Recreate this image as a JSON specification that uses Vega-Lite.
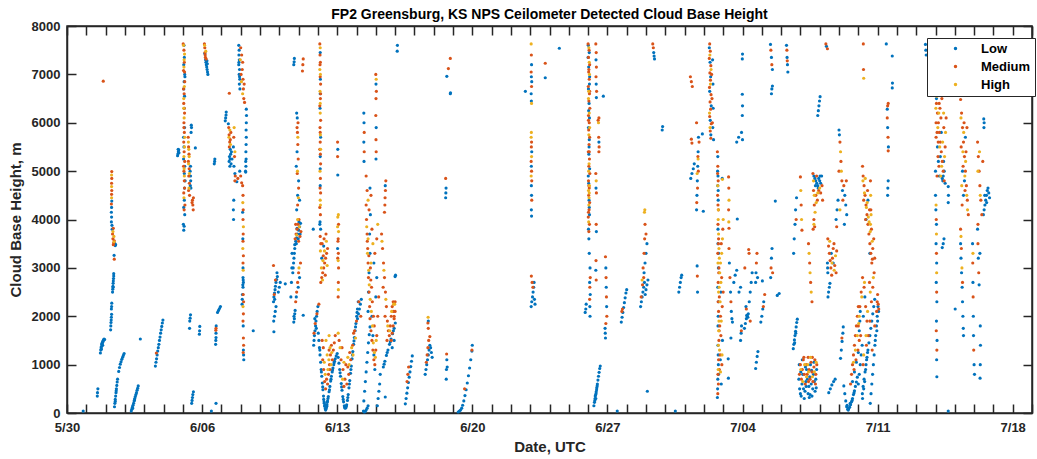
{
"$schema": "https://vega.github.io/schema/vega-lite/v6.json",
"width": 965, "height": 387,
"autosize": "none",
"padding": {"left": 67, "top": 26, "right": 5, "bottom": 46},
"title": {"text": "FP2 Greensburg, KS NPS Ceilometer Detected Cloud Base Height", "fontSize": 14, "font": "Liberation Sans", "fontWeight": "bold", "color": "#000000", "offset": -2, "anchor": "middle"},
"data": {"format": {"type": "csv", "parse": {"day": "number", "height": "number"}}, "values": "day,height,level\n0.84,40,L\n1.57,350,L\n1.58,420,L\n1.60,500,L\n1.88,6860,M\n1.73,1240,L\n1.75,1300,L\n1.77,1350,L\n1.79,1380,L\n1.80,1420,L\n1.82,1440,L\n1.84,1460,L\n1.86,1480,L\n1.88,1500,L\n1.90,1510,L\n1.92,1530,L\n1.85,1400,L\n1.95,1520,L\n1.78,1320,L\n2.26,1720,L\n2.27,1800,L\n2.28,1870,L\n2.29,1920,L\n2.30,1980,L\n2.31,2040,L\n2.30,2150,L\n2.31,2200,L\n2.32,2270,L\n2.36,2500,L\n2.37,2560,L\n2.38,2620,L\n2.39,2680,L\n2.40,2730,L\n2.41,2780,L\n2.42,2830,L\n2.42,2880,L\n2.39,2600,L\n2.45,3180,M\n2.44,3260,L\n2.40,3480,M\n2.42,3520,M\n2.45,3560,M\n2.38,3600,M\n2.48,3500,L\n2.50,3460,L\n2.43,3650,H\n2.38,3750,H\n2.36,3700,M\n2.34,3800,L\n2.33,3880,L\n2.40,3820,M\n2.44,3540,H\n2.52,3480,L\n2.30,3950,L\n2.31,4050,L\n2.30,4150,L\n2.31,4250,L\n2.30,4320,M\n2.32,4380,L\n2.31,4450,H\n2.31,4520,M\n2.32,4600,M\n2.31,4680,H\n2.31,4750,M\n2.32,4850,M\n2.31,4920,H\n2.32,4990,M\n2.46,130,L\n2.48,200,L\n2.50,280,L\n2.52,350,L\n2.54,420,L\n2.56,500,L\n2.58,570,L\n2.60,640,L\n2.62,700,L\n2.68,860,L\n2.72,940,L\n2.76,1010,L\n2.80,1060,L\n2.84,1110,L\n2.88,1150,L\n2.92,1190,L\n2.96,1230,L\n2.50,240,L\n2.55,460,L\n3.33,40,L\n3.36,80,L\n3.39,120,L\n3.42,160,L\n3.45,200,L\n3.48,250,L\n3.51,300,L\n3.54,340,L\n3.57,380,L\n3.60,420,L\n3.63,470,L\n3.66,510,L\n3.69,560,L\n3.40,100,L\n3.50,270,L\n3.80,1530,L\n4.58,970,L\n4.61,1050,L\n4.64,1120,L\n4.67,1200,L\n4.70,1280,L\n4.73,1350,L\n4.76,1420,L\n4.79,1500,L\n4.82,1570,L\n4.85,1650,L\n4.88,1720,L\n4.91,1790,L\n4.94,1860,L\n4.97,1920,L\n4.63,1240,M\n6.05,3780,L\n6.07,3860,L\n6.10,4100,L\n6.08,4400,L\n6.12,4800,L\n6.10,5100,L\n6.06,5500,L\n6.09,5900,L\n6.07,6300,L\n6.05,6700,L\n6.10,7000,L\n6.08,7350,L\n6.06,7600,L\n6.11,6950,L\n6.04,5700,L\n6.09,4650,L\n6.03,3900,L\n6.05,4250,L\n6.08,4950,L\n6.04,5250,L\n6.09,6550,L\n6.07,6850,L\n6.05,7200,L\n6.02,7630,M\n6.06,7500,M\n6.08,7250,M\n6.04,7080,M\n6.10,6850,M\n6.07,6600,M\n6.05,6400,M\n6.09,6200,M\n6.06,6000,M\n6.08,5800,M\n6.05,5600,M\n6.07,5400,M\n6.10,5200,M\n6.06,5000,M\n6.08,4800,M\n6.05,4550,M\n6.11,4300,M\n6.07,4200,M\n6.09,7050,M\n6.04,6700,M\n6.08,6300,M\n6.06,5900,M\n6.04,5100,M\n6.09,4650,M\n6.04,7600,H\n6.09,7420,H\n6.06,7150,H\n6.08,6750,H\n6.05,6500,H\n6.07,6100,H\n6.10,5700,H\n6.06,5300,H\n6.08,4900,H\n6.06,4450,H\n6.07,7300,H\n6.05,6300,H\n6.09,5500,H\n6.07,5050,H\n6.38,5000,L\n6.40,4900,L\n6.41,4800,L\n6.39,4700,L\n6.42,4650,L\n6.40,5100,L\n6.45,5900,L\n6.44,5950,L\n6.43,5800,L\n6.28,5700,M\n6.30,5500,M\n6.32,5350,M\n6.29,5200,M\n6.33,5050,M\n6.31,4900,M\n6.34,4750,M\n6.30,4600,M\n6.35,4500,M\n6.50,4400,M\n6.52,4300,M\n6.54,4200,M\n6.48,4350,M\n6.55,4450,M\n6.29,5600,H\n6.31,5450,H\n6.33,5300,H\n6.30,5150,H\n6.34,4950,H\n6.32,4650,H\n5.73,5320,L\n5.75,5360,L\n5.77,5400,L\n5.79,5440,L\n5.80,5380,L\n5.76,5450,L\n6.65,5480,L\n6.46,200,L\n6.48,260,L\n6.50,320,L\n6.52,380,L\n6.55,440,L\n6.36,1900,L\n6.38,1960,L\n6.40,2030,L\n6.35,1750,L\n6.86,1630,L\n6.87,1700,L\n6.88,1790,L\n7.12,7630,M\n7.14,7550,M\n7.15,7450,M\n7.13,7600,H\n7.17,7350,M\n7.18,7300,L\n7.20,7250,L\n7.22,7200,L\n7.24,7150,L\n7.26,7100,L\n7.28,7050,L\n7.30,7000,L\n7.25,7280,L\n7.21,7320,M\n7.16,7400,M\n7.19,7480,H\n7.14,7430,L\n7.27,7220,L\n7.63,5150,L\n7.65,5200,L\n7.66,5250,L\n7.70,1420,L\n7.71,1500,L\n7.72,1560,L\n7.72,1650,L\n7.71,1710,M\n7.72,1750,M\n7.73,1800,L\n7.80,2080,L\n7.85,2120,L\n7.90,2160,L\n7.95,2200,L\n7.72,200,L\n7.48,40,L\n8.20,6040,L\n8.22,6100,L\n8.24,6160,L\n8.25,6220,L\n8.41,6610,M\n8.40,5200,L\n8.42,5300,L\n8.45,5250,L\n8.48,5350,L\n8.50,5150,L\n8.52,5400,L\n8.46,5450,L\n8.44,5100,L\n8.55,5250,L\n8.38,5900,M\n8.40,5750,M\n8.43,5600,M\n8.41,5500,M\n8.46,5650,M\n8.49,5800,M\n8.39,5700,H\n8.44,5850,H\n8.47,5550,H\n8.36,5980,L\n8.62,5500,L\n8.65,5100,L\n8.70,4950,L\n8.64,5700,M\n8.68,5300,M\n8.72,4900,M\n8.66,5900,H\n8.70,5400,H\n8.62,4200,L\n8.63,4000,L\n8.64,4400,L\n8.90,7600,L\n8.92,7500,L\n8.91,7400,L\n8.93,7300,L\n8.90,7200,L\n8.94,7100,L\n8.92,7000,L\n8.95,6900,L\n8.93,6800,L\n8.96,6700,L\n8.91,7250,L\n8.94,6950,L\n9.00,7550,M\n9.05,7400,M\n9.10,7250,M\n9.08,7100,M\n9.12,6900,M\n9.14,6700,M\n9.16,6500,M\n9.02,7000,M\n8.98,7300,H\n9.04,6850,H\n9.10,6600,H\n9.20,6420,M\n9.18,6800,M\n9.26,4980,L\n9.27,5100,L\n9.28,5250,L\n9.27,5400,L\n9.28,5550,L\n9.29,5700,L\n9.28,5850,L\n9.29,6000,L\n9.30,6150,L\n9.29,6280,L\n9.25,5000,L\n9.26,5200,L\n8.70,4800,M\n8.85,4850,M\n9.00,4900,M\n8.80,4780,L\n8.95,5000,L\n9.05,4760,M\n9.10,4700,M\n9.12,4500,M\n9.11,4350,H\n9.13,4200,M\n9.12,4000,M\n9.14,3850,H\n9.13,3700,M\n9.12,3550,M\n9.11,3400,H\n9.14,3250,M\n9.12,3100,M\n9.13,2950,H\n9.12,2800,L\n9.13,2750,L\n9.14,2700,L\n9.11,2650,L\n9.12,2600,L\n9.13,2450,M\n9.15,2300,M\n9.12,2200,H\n9.14,2050,M\n9.12,1900,M\n9.13,1800,L\n9.14,1550,M\n9.15,1400,M\n9.14,1300,L\n9.15,1200,L\n9.16,1100,L\n9.13,1250,M\n9.08,2350,L\n9.07,2250,L\n9.09,2450,L\n9.10,4150,L\n9.11,3600,L\n9.12,3000,L\n9.65,1700,L\n10.70,2300,L\n10.72,2400,L\n10.75,2480,L\n10.78,2550,L\n10.80,2620,L\n10.83,2700,L\n10.86,2760,L\n10.90,2820,L\n10.95,2500,L\n11.00,2600,L\n11.05,2700,L\n10.76,2350,L\n10.88,2900,L\n10.74,2450,M\n10.80,2750,M\n10.70,3050,M\n10.72,1680,L\n10.71,1900,L\n10.75,2000,L\n10.79,2100,L\n10.83,2200,L\n11.31,2670,L\n11.70,2900,L\n11.72,3000,L\n11.74,3100,L\n11.76,3200,L\n11.78,3300,L\n11.80,3400,L\n11.80,3480,L\n11.85,3550,L\n11.90,3620,L\n11.95,3700,L\n12.00,3780,L\n12.05,3850,L\n12.10,3920,L\n11.88,3500,L\n11.98,3600,L\n12.08,3700,L\n12.02,3950,L\n11.92,3820,L\n11.82,3600,M\n11.87,3700,M\n11.92,3800,M\n11.97,3900,M\n12.02,4000,M\n12.07,3650,M\n12.12,3750,M\n11.85,3900,M\n12.00,3550,M\n11.90,3680,H\n12.04,3850,H\n11.95,4000,H\n11.90,4200,L\n11.95,4500,L\n12.00,4800,L\n11.88,5100,L\n11.92,5400,L\n12.05,4400,L\n11.95,4300,M\n12.00,4650,M\n11.93,4950,M\n11.98,5250,M\n11.96,5550,M\n11.94,5800,M\n11.97,6000,M\n11.99,4450,H\n11.94,5000,H\n11.96,5700,H\n11.90,6200,L\n11.93,6100,L\n11.92,5900,M\n11.75,7200,L\n11.77,7260,L\n11.78,7330,L\n12.20,7070,M\n12.22,7200,M\n12.24,7320,M\n11.75,1880,L\n11.78,1950,L\n11.80,2050,L\n11.82,2120,L\n11.76,2000,L\n11.85,2300,M\n11.90,2500,M\n11.95,2700,M\n12.00,2900,M\n11.88,2400,L\n11.98,2600,L\n12.05,2800,L\n12.10,3100,M\n12.02,3000,H\n11.60,2400,L\n11.63,2700,L\n11.65,3000,L\n11.66,3300,L\n12.24,2020,L\n12.76,3800,L\n12.78,1400,L\n12.80,1500,L\n12.82,1600,L\n12.85,1700,L\n12.88,1800,L\n12.90,1900,L\n12.93,2000,L\n12.96,2100,L\n13.00,2200,L\n12.84,1950,L\n12.92,1750,L\n12.86,1850,M\n12.95,2050,M\n13.05,2250,M\n12.80,1650,M\n13.10,7630,M\n13.12,7550,H\n13.11,7400,M\n13.13,7250,M\n13.10,7100,H\n13.12,6950,M\n13.14,6800,M\n13.11,6650,H\n13.13,6500,M\n13.10,6350,M\n13.12,6200,H\n13.14,6050,M\n13.11,5900,M\n13.13,5750,H\n13.12,5600,M\n13.10,5450,M\n13.12,5300,L\n13.14,5150,M\n13.11,5000,H\n13.13,4850,M\n13.12,4700,L\n13.14,4550,M\n13.12,4400,H\n13.10,4250,M\n13.13,4100,M\n13.11,3950,L\n13.14,3800,L\n13.12,3650,M\n13.15,3500,M\n13.13,3350,H\n13.10,3900,L\n13.12,6600,L\n13.12,7450,L\n13.13,6900,L\n13.11,6300,L\n13.14,5700,L\n13.12,5050,L\n13.11,7200,M\n13.14,6600,M\n13.12,5800,M\n13.13,5350,M\n13.11,4650,M\n13.13,7000,H\n13.12,6400,H\n13.14,5450,H\n13.13,4300,H\n13.15,2700,M\n13.20,2800,M\n13.25,2900,M\n13.30,3000,M\n13.35,3100,M\n13.40,3200,M\n13.45,3300,M\n13.50,3400,M\n13.22,3500,M\n13.32,3600,M\n13.42,3700,M\n13.28,3250,M\n13.38,2850,M\n13.18,3000,H\n13.26,3150,H\n13.34,3350,H\n13.44,3550,H\n13.24,2750,H\n13.48,3050,H\n13.30,3450,L\n13.20,3200,L\n13.02,1650,L\n13.05,1500,L\n13.08,1350,L\n13.11,1200,L\n13.14,1050,L\n13.17,900,L\n13.20,760,L\n13.23,620,L\n13.26,480,L\n13.29,350,L\n13.32,230,L\n13.35,140,L\n13.38,90,L\n13.41,80,L\n13.44,110,L\n13.47,170,L\n13.50,250,L\n13.54,340,L\n13.58,440,L\n13.62,550,L\n13.66,660,L\n13.70,760,L\n13.74,850,L\n13.78,930,L\n13.82,1000,L\n13.86,1070,L\n13.90,1120,L\n13.95,1180,L\n14.00,1230,L\n13.30,280,L\n13.36,160,L\n13.40,60,L\n13.46,140,L\n13.52,300,L\n13.60,480,L\n13.68,700,L\n13.76,890,L\n13.84,1040,L\n13.10,1300,L\n13.18,850,L\n13.25,540,L\n13.33,200,L\n13.43,130,L\n13.48,220,L\n14.05,1150,L\n14.09,1030,L\n14.13,900,L\n14.17,760,L\n14.21,610,L\n14.25,470,L\n14.29,340,L\n14.33,230,L\n14.37,150,L\n14.41,100,L\n14.45,110,L\n14.49,170,L\n14.53,260,L\n14.57,380,L\n14.61,520,L\n14.65,670,L\n14.69,820,L\n14.73,970,L\n14.77,1120,L\n14.81,1270,L\n14.85,1420,L\n14.89,1560,L\n14.93,1700,L\n14.97,1850,L\n15.01,2000,L\n15.05,2150,L\n15.09,2300,L\n14.15,830,L\n14.23,540,L\n14.31,280,L\n14.39,120,L\n14.47,140,L\n14.55,320,L\n14.63,600,L\n14.71,900,L\n14.79,1200,L\n14.87,1490,L\n14.95,1780,L\n15.03,2080,L\n13.50,600,M\n13.55,800,M\n13.60,1000,M\n13.65,1200,M\n13.70,1400,M\n13.58,1300,M\n13.62,900,M\n13.45,700,M\n13.40,500,M\n13.35,650,M\n13.30,900,M\n13.25,1100,M\n13.28,1350,M\n13.22,1500,M\n13.75,1100,M\n13.80,1300,M\n13.85,1450,M\n13.90,1600,M\n14.10,1500,M\n14.20,1100,M\n14.30,900,M\n14.40,700,M\n14.50,600,M\n14.60,800,M\n14.70,1100,M\n14.80,1400,M\n14.90,1700,M\n15.00,1900,M\n14.25,1350,M\n14.45,1000,M\n14.65,1250,M\n14.85,1650,M\n14.35,550,M\n14.55,950,M\n13.52,900,H\n13.57,1100,H\n13.63,1350,H\n13.68,1000,H\n13.48,1200,H\n13.38,800,H\n13.33,1050,H\n13.72,1250,H\n14.05,1650,H\n14.15,1350,H\n14.35,1050,H\n14.55,1150,H\n14.75,1350,H\n14.95,1550,H\n14.28,700,H\n14.62,1000,H\n14.82,1200,H\n13.42,1500,H\n13.58,1600,H\n14.05,2400,M\n14.06,2700,M\n14.07,3000,M\n14.06,3300,M\n14.05,3600,M\n14.07,3900,M\n14.06,2550,H\n14.05,3150,H\n14.07,3750,H\n14.06,4100,H\n14.02,5600,M\n14.03,5450,L\n14.02,5300,M\n14.03,4920,L\n14.03,3200,M\n14.02,3400,L\n14.04,3550,M\n14.02,3850,H\n14.03,4050,H\n15.05,1950,L\n15.10,2050,L\n15.15,2150,L\n15.20,2250,L\n15.25,2350,L\n15.12,2300,M\n15.22,2000,M\n15.36,40,L\n15.40,20,L\n15.45,30,L\n15.50,60,L\n15.55,100,L\n15.60,150,L\n15.38,250,L\n15.42,450,L\n15.46,650,L\n15.50,850,L\n15.54,1050,L\n15.58,1250,L\n15.62,1450,L\n15.66,1620,L\n15.70,1780,L\n15.60,2100,L\n15.62,2500,L\n15.65,2900,L\n15.70,3300,L\n15.68,3700,L\n15.72,4100,L\n15.80,2000,L\n15.85,1600,L\n15.90,1200,L\n15.95,900,L\n16.00,2400,L\n16.05,2800,L\n15.50,4300,M\n15.52,4000,M\n15.55,3700,M\n15.58,3400,M\n15.60,3100,M\n15.62,2800,M\n15.65,2500,M\n15.68,2200,M\n15.70,1950,M\n15.75,1700,M\n15.80,1500,M\n15.85,1300,M\n15.90,1100,M\n15.95,1000,M\n16.00,1300,M\n16.05,1600,M\n15.72,3000,M\n15.78,2600,M\n15.82,2300,M\n15.88,2000,M\n15.92,1800,M\n15.56,3550,M\n15.64,3250,M\n15.74,2750,M\n16.10,2000,M\n16.15,2400,M\n15.53,3850,H\n15.57,3300,H\n15.63,2950,H\n15.66,2650,H\n15.71,2350,H\n15.77,2100,H\n15.83,1800,H\n15.87,1450,H\n15.93,1250,H\n15.98,1150,H\n15.60,3600,H\n15.75,3100,H\n16.02,1500,H\n16.08,150,L\n16.12,300,L\n16.16,450,L\n16.20,600,L\n16.23,800,L\n16.49,330,L\n16.39,950,L\n16.47,1070,L\n16.55,1190,L\n16.63,1300,L\n16.71,1420,L\n16.79,1530,L\n16.87,1640,L\n16.95,1750,L\n17.01,1860,L\n16.43,1010,L\n16.59,1250,L\n16.75,1470,L\n16.91,1700,L\n16.30,3700,M\n16.35,3400,M\n16.40,3100,M\n16.45,2800,M\n16.50,2500,M\n16.55,2200,M\n16.60,1900,M\n16.65,1700,M\n16.70,1600,M\n16.75,1800,M\n16.80,2000,M\n16.85,2200,M\n16.90,2100,M\n16.95,2000,M\n17.00,2300,M\n16.38,2600,M\n16.48,2000,M\n16.58,1500,M\n16.32,3550,H\n16.42,2950,H\n16.52,2350,H\n16.62,1800,H\n16.72,1700,H\n16.82,2100,H\n16.92,2250,H\n16.45,4150,M\n16.47,4300,M\n16.48,4450,M\n16.50,4600,M\n16.52,4800,M\n16.49,4700,L\n15.38,6200,L\n15.39,6000,L\n15.40,5800,M\n15.38,5600,L\n15.40,5400,M\n15.39,5200,L\n16.00,7000,M\n16.02,6900,H\n16.01,6800,L\n16.03,6650,M\n16.01,6500,M\n16.00,6150,M\n16.02,5900,L\n16.01,5650,M\n16.02,5400,M\n16.01,5250,L\n15.50,4900,M\n15.55,4600,M\n15.60,4400,H\n15.65,4200,M\n15.80,3800,M\n15.85,3500,H\n15.95,3300,M\n16.05,3600,M\n16.10,3900,H\n15.75,4500,M\n15.70,4650,L\n15.90,3100,L\n17.11,7480,L\n17.12,7600,L\n16.80,1500,M\n16.85,1650,M\n16.90,1800,M\n16.95,1950,M\n17.00,2100,M\n16.90,2300,M\n16.98,2250,H\n17.00,2820,L\n17.02,2850,L\n16.95,1500,L\n16.85,1350,L\n17.53,190,L\n17.57,300,L\n17.61,410,L\n17.65,520,L\n17.69,630,L\n17.73,740,L\n17.77,850,L\n17.81,960,L\n17.85,1070,L\n17.89,1180,L\n17.62,650,M\n17.66,800,M\n17.70,950,M\n18.56,800,L\n18.60,900,L\n18.64,1000,L\n18.68,1100,L\n18.72,1200,L\n18.76,1300,L\n18.80,1400,L\n18.84,1350,L\n18.88,1250,L\n18.92,1150,L\n18.62,1050,M\n18.66,1200,M\n18.70,1350,M\n18.74,1500,M\n18.80,1580,M\n18.72,1750,M\n18.70,1860,M\n18.71,1980,H\n18.72,1900,L\n19.62,4450,L\n19.63,4550,L\n19.64,4650,L\n19.62,4850,M\n19.68,6960,L\n19.86,6600,L\n19.87,6620,L\n19.76,7120,M\n19.86,7330,M\n19.65,700,L\n19.66,900,L\n19.68,1100,L\n19.67,1220,M\n19.70,950,L\n20.27,20,L\n20.33,40,L\n20.39,60,L\n20.45,100,L\n20.50,160,L\n20.56,250,L\n20.62,360,L\n20.68,480,L\n20.74,620,L\n20.80,770,L\n20.86,930,L\n20.92,1100,L\n20.98,1280,L\n21.00,1400,L\n20.60,500,M\n20.98,1300,M\n24.05,7630,H\n24.06,7400,M\n24.07,7200,L\n24.05,7050,M\n24.06,6950,L\n24.08,6850,L\n24.07,6750,M\n24.05,6600,L\n24.06,6450,L\n24.07,6400,H\n24.06,5800,H\n24.05,5700,H\n24.07,5600,M\n24.06,5500,M\n24.08,5400,L\n24.07,5300,H\n24.05,5200,M\n24.06,5100,L\n24.07,5000,M\n24.05,4900,H\n24.08,4800,M\n24.06,4700,L\n24.07,4500,L\n24.08,4400,M\n24.06,4200,L\n24.07,4070,L\n23.75,6650,L\n24.78,7230,M\n24.78,6930,L\n24.05,2200,L\n24.08,2300,L\n24.12,2400,L\n24.15,2500,L\n24.18,2600,L\n24.20,2700,L\n24.22,2350,L\n24.25,2250,L\n24.06,2830,M\n24.10,2700,M\n24.14,2600,M\n25.51,7540,L\n27.00,7630,M\n27.05,7500,M\n27.02,7350,M\n27.08,7200,M\n27.03,7050,M\n27.06,6900,M\n27.01,6750,M\n27.07,6600,M\n27.04,6450,M\n27.09,6300,M\n27.02,6150,M\n27.06,6000,M\n27.03,5850,M\n27.08,5700,M\n27.05,5550,M\n27.01,5400,M\n27.07,5250,M\n27.04,5100,M\n27.09,4950,M\n27.02,4800,M\n27.06,4650,M\n27.03,4500,M\n27.08,4350,M\n27.05,4200,M\n27.01,4050,M\n27.07,3900,M\n27.04,3750,M\n27.04,7100,M\n27.08,6650,M\n27.02,6050,M\n27.06,5400,M\n27.04,4700,M\n27.02,4150,M\n27.01,7600,L\n27.06,7450,L\n27.03,7150,L\n27.08,6950,L\n27.02,6700,L\n27.05,6400,L\n27.07,6100,L\n27.02,5900,L\n27.06,5650,L\n27.04,5350,L\n27.08,5050,L\n27.03,4750,L\n27.05,4400,L\n27.07,4100,L\n27.02,3800,L\n27.04,3600,L\n27.06,3300,L\n27.10,3000,L\n27.08,2700,L\n27.11,2450,L\n27.09,2200,L\n27.10,2000,L\n27.00,7350,L\n27.07,6800,L\n27.03,6250,L\n27.05,5500,L\n27.01,4900,L\n27.06,4250,L\n27.04,7550,H\n27.07,7000,H\n27.02,6500,H\n27.06,6200,H\n27.04,5750,H\n27.03,5000,H\n27.06,4550,H\n27.05,4450,H\n27.04,4300,H\n27.07,4700,H\n27.03,3950,H\n27.06,7250,H\n27.03,6650,H\n27.08,5900,H\n27.05,5150,H\n27.02,4600,H\n27.09,2600,M\n27.11,2800,M\n27.08,2350,M\n26.85,2080,L\n26.88,2150,L\n26.90,2250,L\n27.40,7630,M\n27.42,7450,M\n27.41,7300,L\n27.43,7150,M\n27.41,6950,M\n27.42,6800,L\n27.44,6650,M\n27.43,6520,L\n27.79,6550,L\n27.52,6050,M\n27.54,6000,H\n27.56,6100,M\n27.55,5700,M\n27.56,5600,L\n27.57,5500,M\n27.56,5400,M\n27.40,4950,M\n27.42,4800,H\n27.41,4650,L\n27.43,4550,M\n27.42,3900,M\n27.43,3750,L\n27.41,3150,M\n27.40,2950,L\n27.42,2750,M\n27.90,3230,M\n27.92,3000,L\n27.93,2800,M\n27.94,2600,L\n27.95,2400,M\n27.96,2200,L\n27.97,2000,M\n27.88,1750,L\n27.89,1650,L\n27.90,1550,L\n27.92,1850,M\n27.30,150,L\n27.33,220,L\n27.36,300,L\n27.39,370,L\n27.42,440,L\n27.45,520,L\n27.48,600,L\n27.51,680,L\n27.54,760,L\n27.57,840,L\n27.60,920,L\n27.63,970,L\n27.35,260,L\n27.41,400,L\n27.47,560,L\n27.37,350,L\n27.40,300,L\n27.44,480,L\n28.51,40,L\n28.72,1880,L\n28.76,1980,L\n28.80,2080,L\n28.84,2180,L\n28.88,2280,L\n28.92,2380,L\n28.96,2480,L\n29.00,2550,L\n28.75,2100,M\n28.78,2150,M\n29.72,2200,L\n29.76,2300,L\n29.80,2400,L\n29.84,2500,L\n29.88,2600,L\n29.92,2700,L\n29.96,2450,L\n30.00,2550,L\n30.05,2650,L\n30.10,2750,L\n29.90,2900,L\n29.95,3100,L\n30.00,3300,L\n30.05,3500,L\n29.75,2400,M\n29.82,2650,M\n29.88,2800,M\n29.85,3000,M\n29.90,3300,M\n29.93,3600,M\n29.95,3900,M\n29.92,4150,H\n29.94,4200,H\n29.80,2750,H\n30.00,3700,M\n30.07,450,L\n30.35,7630,M\n30.38,7550,M\n30.40,7450,L\n30.42,7380,L\n30.44,7320,L\n30.84,5850,L\n30.86,5920,L\n31.70,2500,L\n31.74,2600,L\n31.78,2700,L\n31.82,2800,L\n31.85,2850,L\n31.52,40,L\n32.30,6950,M\n32.35,6850,M\n32.40,6750,M\n32.35,5660,M\n32.38,5580,M\n32.32,4850,L\n32.38,4950,L\n32.45,5050,L\n32.50,5150,L\n32.62,4200,L\n32.64,4500,L\n32.66,4800,L\n32.68,5100,L\n32.70,5400,L\n32.72,5700,L\n32.63,4350,M\n32.67,4650,M\n32.71,5000,M\n32.69,5300,M\n32.65,4950,H\n32.70,5250,H\n32.75,5600,M\n32.62,6000,M\n32.92,5770,L\n32.97,4170,L\n32.65,3040,L\n32.66,2830,M\n32.67,2500,L\n33.30,7630,M\n33.33,7480,M\n33.28,7330,M\n33.36,7180,M\n33.31,7030,M\n33.34,6880,M\n33.29,6730,M\n33.37,6580,M\n33.32,6430,M\n33.35,6280,M\n33.30,6130,M\n33.38,5980,M\n33.33,5830,M\n33.36,5680,M\n33.40,7000,M\n33.42,6500,M\n33.44,6000,M\n33.28,7550,L\n33.32,7250,L\n33.35,6950,L\n33.30,6650,L\n33.38,6350,L\n33.33,6050,L\n33.36,5750,L\n33.45,7300,L\n33.47,6800,L\n33.48,6300,L\n33.46,5900,L\n33.50,5650,L\n33.31,7400,H\n33.34,6800,H\n33.29,6200,H\n33.37,7100,H\n33.32,5900,H\n33.70,5400,M\n33.72,5100,M\n33.74,4800,M\n33.71,4500,M\n33.75,4200,M\n33.73,3900,M\n33.76,3600,M\n33.72,3300,M\n33.78,3000,M\n33.74,2700,M\n33.80,2400,M\n33.76,2100,M\n33.82,1800,M\n33.78,1500,M\n33.84,1200,M\n33.80,900,M\n33.75,600,M\n33.72,400,M\n33.90,3500,M\n33.92,2800,M\n33.95,2200,M\n33.88,1600,M\n33.93,1000,M\n33.98,3800,M\n34.00,2500,M\n33.86,2000,M\n33.71,4950,M\n33.73,4300,M\n33.75,3500,M\n33.77,2900,M\n33.74,2300,M\n33.79,1700,M\n33.76,1100,M\n33.73,800,M\n33.71,5000,L\n33.73,4900,L\n33.72,4700,L\n33.74,4400,L\n33.73,3500,L\n33.75,3000,L\n33.72,2600,L\n33.74,2000,L\n33.73,1400,L\n33.75,1000,L\n33.72,700,L\n33.71,500,L\n33.70,320,L\n33.76,800,L\n33.85,1100,L\n33.90,600,L\n33.96,1500,L\n33.88,2500,L\n33.72,5300,L\n33.74,4600,L\n33.73,3800,L\n33.76,3300,L\n33.75,2300,L\n33.73,1800,L\n33.74,1200,L\n33.74,4000,H\n33.76,3700,H\n33.78,3400,H\n33.80,3200,H\n33.82,2900,H\n33.79,2600,H\n33.84,2300,H\n33.86,3100,H\n33.88,2700,H\n33.90,1900,H\n33.92,3300,H\n33.77,1700,H\n33.81,1300,H\n33.94,1200,H\n33.96,3600,H\n34.00,4000,H\n33.86,850,H\n33.72,4700,H\n33.75,4200,H\n33.73,3100,H\n33.76,2500,H\n33.78,1900,H\n33.75,1400,H\n33.74,900,H\n33.95,4850,L\n33.96,4830,H\n34.28,4880,M\n34.29,4650,M\n34.30,4400,H\n34.28,4200,M\n34.29,3950,H\n34.30,3820,M\n34.73,4010,L\n34.30,3400,M\n34.32,3100,L\n34.35,2800,M\n34.38,2500,L\n34.40,2300,M\n34.42,2100,L\n34.45,1950,L\n34.48,1880,L\n34.26,1120,L\n34.27,720,L\n34.40,1550,L\n34.70,5600,L\n34.80,5700,L\n34.95,5800,L\n35.00,5650,L\n34.99,7320,L\n35.00,7420,L\n34.99,6150,L\n35.00,6350,L\n34.99,6590,L\n34.55,2700,L\n34.62,2850,L\n34.70,2950,L\n34.82,2500,L\n34.90,2600,L\n34.90,1500,L\n34.93,1650,L\n34.95,1800,L\n34.94,1700,M\n35.10,1750,L\n35.15,1850,L\n35.20,1950,L\n35.25,2000,L\n35.30,2050,L\n35.22,2020,L\n35.28,1980,L\n35.35,2300,L\n35.40,2500,L\n35.45,2700,L\n35.50,2900,L\n35.18,2200,L\n35.32,3380,M\n35.34,3300,M\n35.12,3000,M\n35.20,2150,M\n35.40,1900,M\n35.68,2700,L\n35.70,2900,L\n35.72,3100,M\n35.75,3300,M\n35.78,2800,L\n35.68,920,L\n35.72,1050,L\n35.76,1170,L\n35.80,1270,L\n35.95,1880,L\n36.00,2000,L\n36.05,2150,L\n36.10,2300,L\n36.08,2200,M\n36.15,2450,M\n36.03,2730,L\n36.45,7620,L\n36.47,7500,M\n36.50,7350,L\n36.52,7200,M\n36.55,7100,L\n36.50,6600,L\n36.52,6700,L\n36.55,6760,L\n36.46,2800,L\n36.48,3000,M\n36.50,3200,L\n36.53,3400,L\n36.56,2900,M\n36.70,4380,L\n36.80,2430,L\n36.90,2470,L\n37.28,7600,L\n37.30,7500,M\n37.31,7350,L\n37.33,7200,L\n37.35,7050,L\n37.32,7280,M\n37.65,3300,L\n37.68,3600,L\n37.72,3900,L\n37.75,4200,L\n37.80,4450,L\n37.78,4000,M\n37.63,1330,L\n37.66,1420,L\n37.69,1510,L\n37.72,1600,L\n37.75,1690,L\n37.78,1780,L\n37.81,1870,L\n37.84,1940,L\n37.70,1450,L\n37.76,1650,L\n38.00,4880,M\n38.02,4600,H\n38.04,4300,M\n38.06,4000,H\n38.08,3780,M\n37.92,700,L\n37.96,500,L\n38.00,400,L\n38.04,350,L\n38.08,600,L\n38.12,800,L\n38.16,500,L\n38.20,300,L\n38.24,450,L\n38.28,650,L\n38.32,900,L\n38.36,700,L\n38.40,400,L\n38.44,550,L\n38.48,750,L\n38.52,1000,L\n38.56,600,L\n38.60,350,L\n38.64,500,L\n38.68,800,L\n38.72,650,L\n38.76,450,L\n38.80,700,L\n38.84,900,L\n37.94,1000,L\n38.10,1100,L\n38.30,550,L\n38.50,380,L\n38.70,1050,L\n38.02,850,L\n38.26,950,L\n38.46,320,L\n38.58,880,L\n38.82,520,L\n37.95,800,M\n38.00,1000,M\n38.05,700,M\n38.10,900,M\n38.15,1100,M\n38.20,800,M\n38.25,600,M\n38.30,1000,M\n38.35,800,M\n38.40,1150,M\n38.45,900,M\n38.50,700,M\n38.55,1050,M\n38.60,850,M\n38.65,650,M\n38.70,950,M\n38.75,1100,M\n38.80,800,M\n38.85,1000,M\n38.18,1150,M\n38.42,650,M\n38.62,1150,M\n38.78,600,M\n38.02,900,H\n38.12,650,H\n38.22,1000,H\n38.32,750,H\n38.42,850,H\n38.52,1150,H\n38.62,750,H\n38.72,850,H\n38.82,1050,H\n38.38,1000,H\n38.42,3500,M\n38.45,3300,H\n38.48,3100,M\n38.50,2900,H\n38.53,2700,M\n38.56,2500,H\n38.60,2300,M\n38.70,4900,L\n38.75,4850,L\n38.80,4800,L\n38.85,4750,L\n38.90,4700,L\n38.95,4850,L\n39.00,4800,L\n39.05,4750,L\n39.10,4900,L\n38.78,4700,L\n38.92,4650,L\n39.02,4900,L\n38.65,4950,M\n38.68,4600,M\n38.72,4300,M\n38.70,4000,M\n38.74,3850,M\n38.80,4500,M\n38.88,4400,M\n38.95,4600,M\n39.05,4550,M\n39.12,4700,M\n38.66,3800,M\n38.84,4900,M\n39.15,4400,M\n38.68,4800,H\n38.72,4500,H\n38.76,4150,H\n38.82,4350,H\n38.90,4550,H\n39.00,4650,H\n38.70,3900,H\n38.90,6150,L\n38.93,6250,L\n38.96,6350,L\n38.99,6450,L\n39.02,6540,L\n39.32,7630,M\n39.35,7580,L\n39.40,7530,M\n39.42,3600,M\n39.46,3450,M\n39.50,3300,M\n39.54,3150,M\n39.58,3000,M\n39.62,2850,M\n39.66,3200,M\n39.70,3400,M\n39.74,3500,M\n39.78,3050,M\n39.85,2900,M\n39.88,3350,M\n39.40,3100,L\n39.41,3000,L\n39.42,2900,L\n39.60,3300,L\n39.70,3100,L\n39.52,3550,H\n39.64,3100,H\n39.75,2950,H\n39.82,3250,H\n39.43,2400,L\n39.46,2500,L\n39.50,2600,L\n39.53,2680,L\n39.47,420,L\n39.55,500,L\n39.63,580,L\n39.72,650,L\n39.80,700,L\n40.00,5850,L\n40.02,5750,L\n40.05,5600,M\n40.08,5400,H\n40.10,5200,M\n40.12,5000,H\n40.15,4800,M\n40.18,4600,L\n40.20,4400,M\n40.05,4200,H\n40.00,5000,M\n39.85,4000,L\n39.90,4200,L\n39.95,4400,L\n40.30,4500,L\n40.35,4300,L\n40.40,4100,L\n39.88,3850,M\n40.25,4700,M\n40.38,4800,M\n40.28,3900,L\n40.08,1130,L\n40.12,1300,L\n40.16,1480,L\n40.20,1650,L\n40.22,1780,L\n40.15,1550,M\n40.25,560,L\n40.30,400,L\n40.35,250,L\n40.40,130,L\n40.45,80,L\n40.50,90,L\n40.55,120,L\n40.60,170,L\n40.65,230,L\n40.70,300,L\n40.75,380,L\n40.80,460,L\n40.85,550,L\n40.90,640,L\n40.95,740,L\n40.42,160,L\n40.48,60,L\n40.58,200,L\n40.68,260,L\n40.78,420,L\n40.60,600,M\n40.65,800,M\n40.70,1000,M\n40.75,1200,M\n40.80,1400,M\n40.85,1600,M\n40.90,1800,M\n40.95,2000,M\n41.00,2200,M\n40.78,900,M\n40.88,1100,M\n40.98,1300,M\n41.05,1500,M\n40.70,650,L\n40.80,850,L\n40.90,1050,L\n41.00,1250,L\n41.05,1700,L\n41.08,1900,L\n41.10,2100,L\n40.75,1050,H\n40.95,1600,H\n41.02,1850,H\n40.85,1300,H\n41.26,7630,M\n41.27,7100,M\n41.28,6920,H\n41.22,5100,M\n41.25,4900,M\n41.30,4700,M\n41.35,4500,M\n41.40,4300,M\n41.45,4100,M\n41.50,3900,M\n41.55,3700,M\n41.60,3500,M\n41.65,3300,M\n41.70,3100,M\n41.28,4400,M\n41.38,4000,M\n41.48,4600,M\n41.58,4200,M\n41.68,3800,M\n41.75,3400,M\n41.80,3600,M\n41.85,3200,M\n41.24,4800,H\n41.32,4550,H\n41.42,4250,H\n41.52,4050,H\n41.62,3750,H\n41.72,3550,H\n41.36,4850,H\n41.46,4350,H\n41.56,3950,H\n41.66,4100,H\n41.40,4000,L\n41.50,4400,L\n41.60,3300,L\n41.21,400,L\n41.25,550,L\n41.30,700,L\n41.35,850,L\n41.40,1000,L\n41.45,1150,L\n41.50,1300,L\n41.55,1450,L\n41.60,1600,L\n41.65,1750,L\n41.70,1900,L\n41.75,2050,L\n41.80,2200,L\n41.85,2350,L\n41.22,300,L\n41.28,500,L\n41.33,650,L\n41.38,900,L\n41.43,1100,L\n41.48,1250,L\n41.00,600,L\n41.05,800,L\n41.10,1000,L\n41.15,1200,L\n41.20,1400,L\n41.26,2000,L\n41.34,2400,L\n41.00,1800,M\n41.08,2200,M\n41.15,2500,M\n41.22,2800,M\n41.30,2600,M\n41.38,2200,M\n41.45,1900,M\n41.52,1600,M\n41.60,1900,M\n41.68,2300,M\n41.75,2600,M\n41.82,2900,M\n41.12,1600,M\n41.25,1000,M\n41.42,1400,M\n41.58,2700,M\n41.72,1300,M\n41.85,1800,M\n41.05,2000,H\n41.18,2400,H\n41.32,2700,H\n41.48,2100,H\n41.62,2500,H\n41.78,2800,H\n41.40,1600,H\n41.28,1200,H\n41.62,200,L\n41.66,400,L\n41.70,600,L\n41.74,800,L\n41.78,1000,L\n41.82,1200,L\n41.86,1400,L\n41.90,1600,L\n41.94,1800,L\n41.98,2000,L\n42.02,2200,L\n41.88,1500,L\n41.96,1700,L\n42.00,1900,L\n42.05,2100,L\n41.95,2100,M\n41.98,2300,M\n42.00,2450,M\n42.03,2250,M\n42.06,2150,M\n41.73,3180,M\n41.63,4800,M\n41.64,4500,H\n41.65,4200,M\n41.63,3900,H\n42.45,7630,L\n42.76,7380,L\n42.76,6720,L\n42.77,6820,L\n42.50,6280,L\n42.52,6350,M\n42.55,6400,M\n42.50,6100,M\n42.52,5900,L\n42.54,5700,M\n42.56,5500,L\n42.55,5420,M\n42.52,4500,L\n42.53,4650,L\n42.55,4800,L\n44.48,7620,L\n44.50,7500,L\n44.52,7400,L\n45.00,6600,M\n45.05,6400,M\n45.10,6200,M\n45.15,6000,M\n45.20,5800,M\n45.25,5600,M\n45.30,5400,M\n45.35,5200,M\n45.40,5000,M\n45.45,4800,M\n45.03,5700,M\n45.13,5300,M\n45.23,6300,M\n45.33,6500,M\n45.43,5900,M\n45.50,5500,M\n45.55,6100,M\n45.08,4900,M\n45.18,5100,M\n45.03,6000,M\n45.08,5800,M\n45.14,5600,M\n45.19,6400,M\n45.28,6100,M\n45.02,6300,H\n45.12,5900,H\n45.22,5500,H\n45.32,5100,H\n45.42,6200,H\n45.52,5800,H\n45.07,6550,H\n45.27,4900,H\n45.47,5300,H\n45.17,6200,H\n45.37,5600,H\n45.05,6500,L\n45.10,5500,L\n45.15,5200,L\n45.20,4900,L\n45.35,4850,L\n45.38,4800,L\n45.40,4900,L\n45.45,5000,L\n45.50,4750,L\n45.30,5800,L\n45.00,5000,L\n45.25,5300,L\n45.42,5200,L\n45.66,4350,L\n45.67,4500,L\n45.66,4680,L\n45.00,4500,L\n45.02,4200,L\n45.05,3900,L\n45.03,3500,L\n45.06,3100,L\n45.04,2700,L\n45.07,2300,L\n45.05,1900,L\n45.08,1500,L\n45.06,1100,L\n45.07,750,L\n45.04,4000,M\n45.05,3300,M\n45.06,2500,M\n45.04,1700,M\n45.07,1300,M\n45.05,3700,H\n45.06,2900,H\n45.03,4300,H\n45.35,3420,L\n45.40,3500,L\n45.44,3600,L\n45.66,40,L\n46.02,2150,L\n46.30,6480,M\n46.35,6200,M\n46.40,5900,M\n46.45,5600,M\n46.50,5300,M\n46.55,5000,M\n46.60,4700,M\n46.65,4400,M\n46.70,4100,M\n46.33,5500,M\n46.43,5100,M\n46.53,4600,M\n46.63,5900,M\n46.38,4300,M\n46.48,6000,M\n46.58,5400,M\n46.32,6100,H\n46.42,5400,H\n46.52,4900,H\n46.62,4500,H\n46.36,4700,H\n46.46,5800,H\n46.56,5200,H\n46.66,4200,H\n46.40,5000,L\n46.50,4800,L\n46.45,4500,L\n46.55,5700,L\n46.30,3500,L\n46.32,3200,L\n46.35,2900,L\n46.38,2600,L\n46.40,2300,L\n46.42,2000,L\n46.44,1750,L\n46.45,1600,L\n46.30,3800,M\n46.34,3400,M\n46.40,2700,M\n46.32,3650,H\n46.37,3000,H\n46.92,3500,L\n46.93,3100,M\n46.94,2700,L\n46.95,2400,M\n46.96,2000,L\n46.97,1600,L\n46.98,1300,M\n47.00,1000,L\n47.02,800,L\n46.94,3300,H\n47.18,5600,M\n47.22,5300,M\n47.26,5000,M\n47.30,4700,M\n47.35,4400,M\n47.40,4100,M\n47.20,5000,H\n47.32,4500,H\n47.28,5400,H\n47.50,6080,L\n47.52,6000,L\n47.51,5900,L\n47.45,5200,M\n47.20,3900,M\n47.48,4100,L\n47.52,4200,L\n47.56,4300,L\n47.60,4400,L\n47.64,4500,L\n47.68,4600,L\n47.72,4650,L\n47.76,4550,L\n47.80,4450,L\n47.55,4500,L\n47.65,4350,L\n47.18,3800,L\n47.20,3500,M\n47.22,3200,L\n47.24,2900,M\n47.26,2650,L\n47.30,3300,L\n47.32,1800,L\n47.33,1400,L\n47.32,1000,L\n47.31,720,L"},
"layer": [
 {"transform": [{"filter": "datum.level == 'L'"}],
  "mark": {"type": "point", "filled": true, "shape": "circle", "size": 10, "opacity": 1, "strokeWidth": 0},
  "encoding": {
   "x": {"field": "day", "type": "quantitative", "scale": {"domain": [0, 50], "nice": false, "zero": false},
     "axis": {"orient": "bottom", "title": "Date, UTC", "values": [0,1,2,3,4,5,6,7,8,9,10,11,12,13,14,15,16,17,18,19,20,21,22,23,24,25,26,27,28,29,30,31,32,33,34,35,36,37,38,39,40,41,42,43,44,45,46,47,48,49,50],
       "labelExpr": "datum.value % 7 == 0 ? utcFormat(utc(2015, 4, 30 + datum.value), '%-m/%d') : ''",
       "labelFlush": false, "labelOverlap": false, "tickSize": -9, "labelPadding": 17, "titlePadding": 5}},
   "y": {"field": "height", "type": "quantitative", "scale": {"domain": [0, 8000], "nice": false},
     "axis": {"orient": "left", "title": "Cloud Base Height, m", "format": "d", "values": [0,1000,2000,3000,4000,5000,6000,7000,8000], "tickSize": -9, "labelPadding": 16, "titlePadding": 8}},
   "color": {"field": "level", "type": "nominal", "scale": {"domain": ["L", "M", "H"], "range": ["#0072BD", "#D95319", "#EDB120"]},
     "legend": {"orient": "none", "legendX": 860, "legendY": 12, "title": null, "labelExpr": "datum.label == 'L' ? 'Low' : datum.label == 'M' ? 'Medium' : 'High'"}}
  }},
 {"transform": [{"filter": "datum.level == 'M'"}],
  "mark": {"type": "point", "filled": true, "shape": "circle", "size": 10, "opacity": 1, "strokeWidth": 0},
  "encoding": {
   "x": {"field": "day", "type": "quantitative", "scale": {"domain": [0, 50], "nice": false, "zero": false}, "axis": null},
   "y": {"field": "height", "type": "quantitative", "scale": {"domain": [0, 8000], "nice": false}, "axis": null},
   "color": {"field": "level", "type": "nominal", "scale": {"domain": ["L", "M", "H"], "range": ["#0072BD", "#D95319", "#EDB120"]}}
  }},
 {"transform": [{"filter": "datum.level == 'H'"}],
  "mark": {"type": "point", "filled": true, "shape": "circle", "size": 10, "opacity": 1, "strokeWidth": 0},
  "encoding": {
   "x": {"field": "day", "type": "quantitative", "scale": {"domain": [0, 50], "nice": false, "zero": false},
     "axis": {"orient": "top", "title": null, "labels": false, "values": [0,1,2,3,4,5,6,7,8,9,10,11,12,13,14,15,16,17,18,19,20,21,22,23,24,25,26,27,28,29,30,31,32,33,34,35,36,37,38,39,40,41,42,43,44,45,46,47,48,49,50], "tickSize": -9}},
   "y": {"field": "height", "type": "quantitative", "scale": {"domain": [0, 8000], "nice": false},
     "axis": {"orient": "right", "title": null, "labels": false, "values": [0,1000,2000,3000,4000,5000,6000,7000,8000], "tickSize": -9}},
   "color": {"field": "level", "type": "nominal", "scale": {"domain": ["L", "M", "H"], "range": ["#0072BD", "#D95319", "#EDB120"]}}
  }}
],
"resolve": {"axis": {"x": "independent", "y": "independent"}},
"config": {
 "font": "Liberation Sans",
 "view": {"stroke": "#262626", "strokeWidth": 1.5},
 "axis": {"grid": false, "domainColor": "#262626", "domainWidth": 1.5, "tickColor": "#262626", "tickWidth": 1.5, "labelColor": "#262626", "titleColor": "#262626", "labelFont": "Liberation Sans", "titleFont": "Liberation Sans", "labelFontWeight": "bold", "labelFontSize": 13, "titleFontWeight": "bold", "titleFontSize": 15},
 "legend": {"padding": 4, "symbolOffset": 18, "labelOffset": 19, "rowPadding": 4, "strokeColor": "#262626", "strokeWidth": 1, "fillColor": "#ffffff", "labelFont": "Liberation Sans", "labelFontSize": 13, "labelFontWeight": "bold", "labelColor": "#000000", "symbolSize": 12, "symbolType": "circle", "symbolStrokeWidth": 0, "cornerRadius": 0}
}
}
